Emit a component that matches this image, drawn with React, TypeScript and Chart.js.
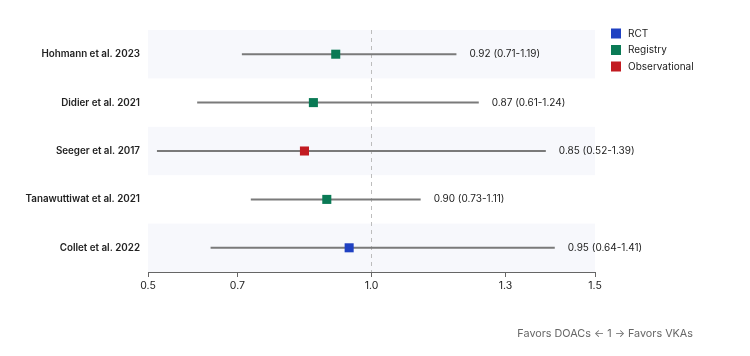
import React, { useEffect, useRef } from "react";
import { Chart, registerables } from "chart.js";

Chart.register(...registerables);

// Studies, top to bottom
const studies = [
  "Hohmann et al. 2023",
  "Didier et al. 2021",
  "Seeger et al. 2017",
  "Tanawuttiwat et al. 2021",
  "Collet et al. 2022",
];
const hazardRatio = [0.92, 0.87, 0.85, 0.9, 0.95];
const ciLower = [0.71, 0.61, 0.52, 0.73, 0.64];
const ciUpper = [1.19, 1.24, 1.39, 1.11, 1.41];
const design = ["Registry", "Registry", "Observational", "Registry", "RCT"];

const designTypes = ["RCT", "Registry", "Observational"];
const designColors = ["#1f41c2", "#0a7a55", "#c21b21"];

const xTicks = [0.5, 0.7, 1.0, 1.3, 1.5];
const footnote = "Favors DOACs \u2190 1 \u2192 Favors VKAs";

const FONT = "Inter, 'Noto Sans', sans-serif";

const forestPlugin = {
  id: "forestDecor",
  beforeDatasetsDraw(chart: any) {
    const { ctx, chartArea, scales } = chart;
    const y = scales.y;
    const x = scales.x;
    ctx.save();
    // alternating row bands
    ctx.fillStyle = "#f7f8fc";
    studies.forEach((_, i) => {
      if (i % 2 !== 0) return;
      const t = y.getPixelForValue(i - 0.5);
      const b = y.getPixelForValue(i + 0.5);
      ctx.fillRect(chartArea.left, t, chartArea.right - chartArea.left, b - t);
    });
    // line of no effect
    const x1 = x.getPixelForValue(1);
    ctx.strokeStyle = "#bdbdbd";
    ctx.lineWidth = 1;
    ctx.setLineDash([4, 4]);
    ctx.beginPath();
    ctx.moveTo(x1, chartArea.top);
    ctx.lineTo(x1, chartArea.bottom);
    ctx.stroke();
    ctx.restore();
  },
  afterDatasetsDraw(chart: any) {
    const { ctx, chartArea, scales } = chart;
    const y = scales.y;
    const x = scales.x;
    ctx.save();
    // effect size labels
    ctx.font = `10px ${FONT}`;
    ctx.fillStyle = "#222";
    ctx.textAlign = "left";
    ctx.textBaseline = "middle";
    studies.forEach((_, i) => {
      const txt = `${hazardRatio[i].toFixed(2)} (${ciLower[i].toFixed(2)}-${ciUpper[i].toFixed(2)})`;
      ctx.fillText(txt, x.getPixelForValue(ciUpper[i]) + 13, y.getPixelForValue(i));
    });
    // legend
    const lx = chartArea.right + 16;
    designTypes.forEach((name, k) => {
      const cy = chartArea.top + 3.5 + k * 16.5;
      ctx.fillStyle = designColors[k];
      ctx.fillRect(lx, cy - 5, 10, 10);
      ctx.fillStyle = "#222";
      ctx.font = `10px ${FONT}`;
      ctx.fillText(name, lx + 17, cy);
    });
    // direction note
    ctx.font = `10.8px ${FONT}`;
    ctx.fillStyle = "#666";
    ctx.textAlign = "right";
    ctx.fillText(footnote, chartArea.right + 98, chartArea.bottom + 62);
    ctx.restore();
  },
};

export default function App() {
  const canvasRef = useRef<HTMLCanvasElement | null>(null);

  useEffect(() => {
    if (!canvasRef.current) return;

    const markerSets = designTypes.map((name, k) => ({
      label: name,
      data: studies
        .map((_, i) => (design[i] === name ? { x: hazardRatio[i], y: i } : null))
        .filter((p) => p !== null),
      pointStyle: "rect",
      pointRadius: 6.4,
      pointHoverRadius: 6.4,
      backgroundColor: designColors[k],
      borderColor: designColors[k],
      borderWidth: 0,
      showLine: false,
    }));

    const ciSets = studies.map((name, i) => ({
      label: `${name} CI`,
      data: [
        { x: ciLower[i], y: i },
        { x: ciUpper[i], y: i },
      ],
      showLine: true,
      borderColor: "#7a7a7a",
      borderWidth: 2,
      pointRadius: 0,
      pointHoverRadius: 0,
    }));

    const chart = new Chart(canvasRef.current, {
      type: "scatter",
      data: { datasets: [...markerSets, ...ciSets] as any },
      options: {
        animation: false,
        responsive: true,
        maintainAspectRatio: false,
        layout: { padding: { left: 0, right: 147, top: 22, bottom: 46 } },
        plugins: { legend: { display: false }, tooltip: { enabled: false } },
        scales: {
          x: {
            type: "linear",
            min: 0.5,
            max: 1.5,
            afterBuildTicks: (scale: any) => {
              scale.ticks = xTicks.map((v) => ({ value: v }));
            },
            afterFit: (scale: any) => {
              scale.height = 30;
            },
            ticks: {
              callback: (v: any) => Number(v).toFixed(1),
              color: "#222",
              font: { family: FONT, size: 10.5 },
              padding: 3,
              maxRotation: 0,
              autoSkip: false,
            },
            grid: {
              drawOnChartArea: false,
              drawTicks: true,
              tickLength: 5,
              color: "#666",
            },
            border: { display: true, color: "#666", width: 1 },
          },
          y: {
            type: "linear",
            min: -0.5,
            max: 4.5,
            reverse: true,
            afterBuildTicks: (scale: any) => {
              scale.ticks = studies.map((_, i) => ({ value: i }));
            },
            afterFit: (scale: any) => {
              scale.width = 140;
            },
            ticks: {
              callback: (v: any) => studies[v] ?? "",
              color: "#222",
              font: { family: FONT, size: 9.8, weight: "600" },
              padding: 8,
              autoSkip: false,
            },
            grid: { display: false, drawTicks: false },
            border: { display: false },
          },
        },
      },
      plugins: [forestPlugin],
    });

    return () => chart.destroy();
  }, []);

  return (
    <div style={{ position: "relative", width: 734, height: 340 }}>
      <canvas ref={canvasRef} />
    </div>
  );
}
